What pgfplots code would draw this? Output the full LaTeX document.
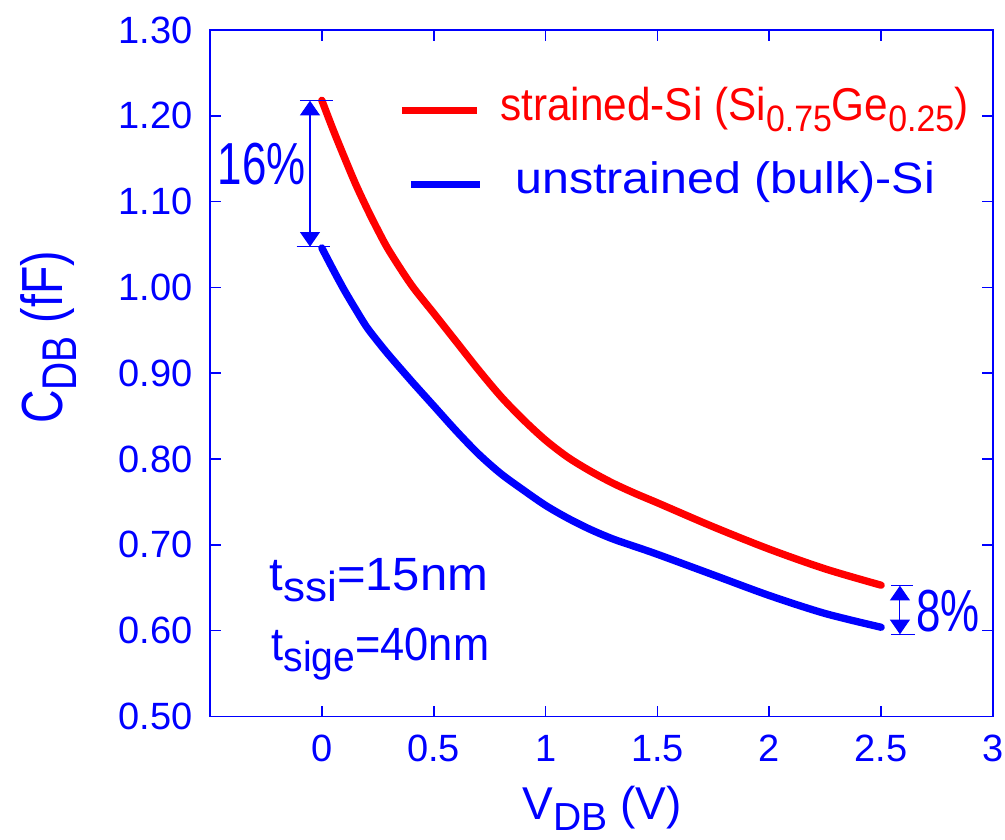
\documentclass[border=0pt]{standalone}
\usepackage{fontspec}
\setmainfont{Liberation Sans}
\usepackage{graphicx}
\usepackage{pgfplots}
\usepackage{pgfplotstable}
\pgfplotsset{compat=1.18}
\usetikzlibrary{arrows.meta}
\newcommand{\sub}[2][0.8]{\raisebox{-0.25em}{\scalebox{#1}{#2}}}
\newcommand{\fs}[1]{\fontsize{#1}{#1}\selectfont}

\pgfplotstableread{
x y
0 1.218
0.05 1.184
0.1 1.152
0.15 1.121
0.2 1.093
0.25 1.067
0.3 1.043
0.4 1.003
0.5 0.970
0.6 0.937
0.7 0.904
0.8 0.873
0.9 0.846
1.0 0.822
1.1 0.802
1.2 0.786
1.3 0.772
1.4 0.760
1.5 0.749
1.75 0.721
2.0 0.695
2.25 0.672
2.5 0.653
}\strained

\pgfplotstableread{
x y
0 1.046
0.05 1.021
0.1 0.997
0.15 0.975
0.2 0.954
0.25 0.937
0.3 0.921
0.4 0.891
0.5 0.862
0.6 0.833
0.7 0.806
0.8 0.783
0.9 0.764
1.0 0.746
1.1 0.731
1.2 0.718
1.3 0.707
1.4 0.698
1.5 0.689
1.75 0.665
2.0 0.641
2.25 0.620
2.5 0.604
}\unstrained

\begin{document}
\begin{tikzpicture}
\path[use as bounding box] (-157.5pt,-91.875pt) rectangle (596.25pt,537.375pt);
\begin{axis}[
  at={(0,0)}, anchor=south west,
  scale only axis, width=587.25pt, height=514.875pt,
  xmin=-0.5, xmax=3, ymin=0.5, ymax=1.3,
  xtick={0,0.5,1,1.5,2,2.5,3},
  ytick={0.5,0.6,0.7,0.8,0.9,1.0,1.1,1.2,1.3},
  axis line style={blue, line width=1.2pt},
  every tick/.style={blue, line width=1.2pt},
  major tick length=8.25pt,
  tick align=inside,
  /pgf/number format/assume math mode=true,
  tick label style={font=\fs{28.5}, text=blue, inner sep=0pt},
  yticklabel style={anchor=east, xshift=-12.75pt, /pgf/number format/.cd, fixed, fixed zerofill, precision=2},
  xticklabel style={anchor=north, yshift=-13.9pt},
  xlabel={V\raisebox{-0.22em}{\scalebox{0.85}{DB}} (V)},
  xlabel style={at={(axis description cs:0.501,-0.1507)}, anchor=base, font=\fs{34.5}, text=blue, inner sep=0pt},
  ylabel={\scalebox{0.8}[1]{C\sub[0.84]{DB} (fF)}},
  ylabel style={at={(axis description cs:-0.189,0.5522)}, anchor=base, rotate=0, font=\fs{43.5}, text=blue, inner sep=0pt},
]
\addplot[red, line width=5.5pt, line cap=round, line join=round, smooth, mark=none] table {\strained};
\addplot[blue, line width=5.5pt, line cap=round, line join=round, smooth, mark=none] table {\unstrained};

% legend
\draw[red, line width=5.5pt] (axis cs:0.358,1.206) -- (axis cs:0.693,1.206);
\draw[blue, line width=5.5pt] (axis cs:0.398,1.1202) -- (axis cs:0.706,1.1202);
\node[anchor=base west, inner sep=0pt, text=red, font=\fs{34.5}] at (axis cs:0.7963,1.1951)
  {\scalebox{0.92}[1]{strained-Si (Si\sub{0.75}Ge\sub{0.25})}};
\node[anchor=base west, inner sep=0pt, text=blue, font=\fs{33}] at (axis cs:0.8634,1.1097)
  {\scalebox{1.1}[1]{unstrained (bulk)-Si}};

% 16% arrow
\draw[blue, line width=0.8pt] (axis cs:-0.098,1.2176) -- (axis cs:0.049,1.2176);
\draw[blue, line width=0.8pt] (axis cs:-0.1125,1.0475) -- (axis cs:0.036,1.0475);
\draw[blue, line width=0.8pt, {Triangle[width=15pt,length=11pt]}-{Triangle[width=15pt,length=11pt]}]
  (axis cs:-0.053,1.0475) -- (axis cs:-0.053,1.2176);
\node[anchor=base, inner sep=0pt, text=blue, font=\fs{44.5}] at (axis cs:-0.269,1.1194)
  {\scalebox{0.74}[1]{16\%}};

% 8% arrow
\draw[blue, line width=0.8pt] (axis cs:2.544,0.6524) -- (axis cs:2.643,0.6524);
\draw[blue, line width=0.8pt] (axis cs:2.544,0.5958) -- (axis cs:2.652,0.5958);
\draw[blue, line width=0.8pt, {Triangle[width=15pt,length=11pt]}-{Triangle[width=15pt,length=11pt]}]
  (axis cs:2.584,0.5958) -- (axis cs:2.584,0.6524);
\node[anchor=base, inner sep=0pt, text=blue, font=\fs{44.5}] at (axis cs:2.799,0.5988)
  {\scalebox{0.74}[1]{8\%}};

% thickness annotations
\node[anchor=base west, inner sep=0pt, text=blue, font=\fs{35}] at (axis cs:-0.235,0.6474)
  {\scalebox{1.05}[1]{t\sub[0.9]{ssi}=15nm}};
\node[anchor=base west, inner sep=0pt, text=blue, font=\fs{35}] at (axis cs:-0.226,0.5658)
  {\scalebox{0.93}[1]{t\sub[0.9]{sige}=40nm}};
\end{axis}
\end{tikzpicture}
\end{document}
